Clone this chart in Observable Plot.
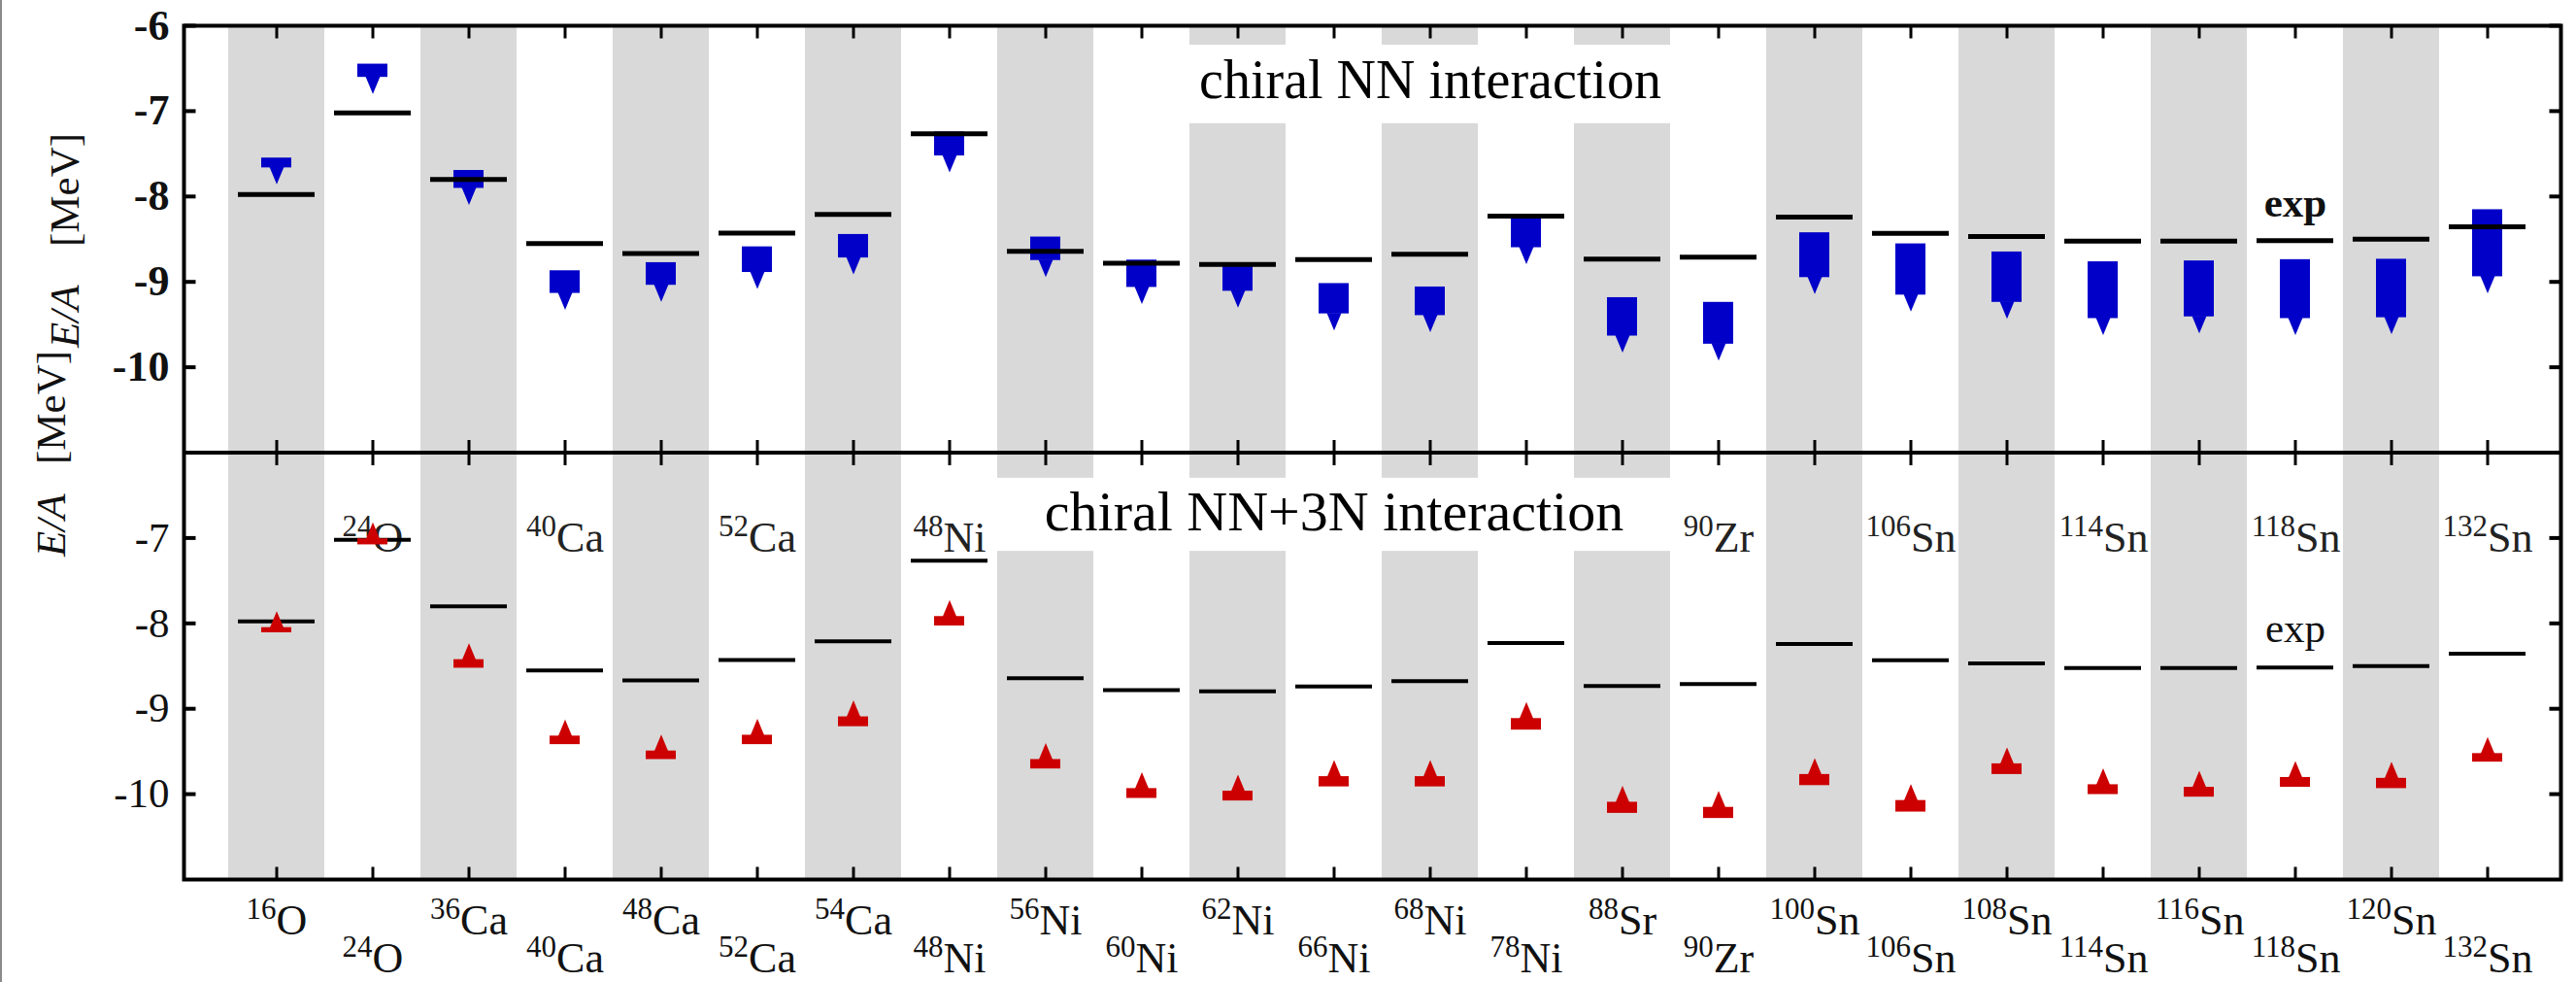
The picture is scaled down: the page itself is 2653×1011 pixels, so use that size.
<!DOCTYPE html>
<html>
<head>
<meta charset="utf-8">
<script src="https://cdn.jsdelivr.net/npm/d3@7"></script>
<script src="https://cdn.jsdelivr.net/npm/@observablehq/plot@0.6"></script>
<style>
  html, body { margin: 0; padding: 0; background: #fff; }
  #chart { position: relative; width: 2653px; height: 1011px; }
  #edge { position: absolute; left: 0; top: 0; width: 2px; height: 1011px; background: #8a8a8a; }
  #chart svg text { font-family: "Liberation Serif", "Times New Roman", serif; }
</style>
</head>
<body>
<div id="chart"><div id="edge"></div></div>
<script>
// ---------------- data ----------------
const nuclides = ["16O","24O","36Ca","40Ca","48Ca","52Ca","54Ca","48Ni","56Ni","60Ni","62Ni","66Ni",
                  "68Ni","78Ni","88Sr","90Zr","100Sn","106Sn","108Sn","114Sn","116Sn","118Sn","120Sn","132Sn"];
// experimental E/A [MeV]
const expEnergy = [-7.976,-7.02,-7.80,-8.551,-8.667,-8.43,-8.21,-7.265,-8.643,-8.781,-8.795,-8.739,
                   -8.675,-8.23,-8.733,-8.71,-8.24,-8.432,-8.469,-8.523,-8.523,-8.517,-8.50,-8.355];
// chiral NN interaction: range of results (upper / lower end)
const nnUpper = [-7.55,-6.45,-7.695,-8.87,-8.775,-8.59,-8.445,-7.245,-8.475,-8.745,-8.82,-9.02,
                 -9.06,-8.24,-9.185,-9.24,-8.425,-8.555,-8.65,-8.765,-8.755,-8.74,-8.735,-8.155];
const nnLower = [-7.665,-6.605,-7.905,-9.135,-9.04,-8.89,-8.72,-7.525,-8.75,-9.065,-9.11,-9.375,
                 -9.395,-8.60,-9.635,-9.73,-8.95,-9.155,-9.24,-9.43,-9.41,-9.43,-9.42,-8.94];
// chiral NN+3N interaction: range of results (upper / lower end)
const n3nUpper = [-8.05,-7.01,-8.425,-9.32,-9.495,-9.31,-9.095,-7.92,-9.595,-9.935,-9.965,-9.795,
                  -9.795,-9.115,-10.095,-10.155,-9.77,-10.075,-9.645,-9.89,-9.92,-9.805,-9.815,-9.525];
const n3nLower = [-8.11,-7.08,-8.525,-9.42,-9.595,-9.42,-9.21,-8.03,-9.705,-10.05,-10.08,-9.915,
                  -9.915,-9.25,-10.225,-10.285,-9.9,-10.21,-9.77,-10.005,-10.035,-9.92,-9.935,-9.625];
// y tick labels of the two panels
const yTicksNN = [-6,-7,-8,-9,-10];
const yTicks3N = [-7,-8,-9,-10];
// nuclides labelled inside the lower panel
const innerLabels = ["24O","40Ca","52Ca","48Ni","90Zr","106Sn","114Sn","118Sn","132Sn"];
const panelDomain = [-11, -6];

// ---------------- layout helpers ----------------
const OFFSET = panelDomain[0] - panelDomain[1];   // lower panel is drawn one panel-height further down
const F = "Liberation Serif, Times New Roman, serif";
const gray = "#d9d9d9", blue = "#0000c8", red = "#cc0000";

const rows = nuclides.map((name, i) => ({
  name, i,
  A: name.match(/^\d+/)[0],
  el: name.replace(/^\d+/, ""),
  exp: expEnergy[i],
  nnHi: nnUpper[i], nnLo: nnLower[i],
  tHi: n3nUpper[i] + OFFSET, tLo: n3nLower[i] + OFFSET,
  expLow: expEnergy[i] + OFFSET
}));

const sym = (pts, close) => ({
  draw(ctx) { ctx.moveTo(...pts[0]); for (const p of pts.slice(1)) ctx.lineTo(...p); if (close) ctx.closePath(); }
});
const tickDown = sym([[0, 0], [0, 13]]);
const tickUp = sym([[0, 0], [0, -13]]);
const tickBoth = sym([[0, -13], [0, 13]]);
const tickRight = sym([[0, 0], [12, 0]]);
const tickLeft = sym([[0, 0], [-12, 0]]);
const triDown = sym([[-7.5, -1], [7.5, -1], [0, 17]], true);
const triUp = sym([[-7.5, 1], [7.5, 1], [0, -17]], true);

const glyphW = {O: .722, C: .667, a: .444, N: .722, i: .278, S: .556, r: .333, Z: .611, n: .5};
const supSize = 31, elSize = 44;
function nuclideLabel(row, opts, dy, fill) {
  const supW = row.A.length * 0.5 * supSize;
  const elW = [...row.el].reduce((w, c) => w + (glyphW[c] ?? 0.5), 0) * elSize;
  const shift = (supW - elW) / 2;
  const base = {x: "name", lineAnchor: "bottom", fontFamily: F, fill, ...opts};
  return [
    Plot.text([row], {...base, text: "A", textAnchor: "end", dx: shift, dy: dy - 16, fontSize: supSize}),
    Plot.text([row], {...base, text: "el", textAnchor: "start", dx: shift, dy, fontSize: elSize})
  ];
}

const tickRows = [
  ...yTicksNN.map(v => ({v, y: v, top: true})),
  ...yTicks3N.map(v => ({v, y: v + OFFSET, top: false}))
];
const chiral = [
  {cat: "68Ni", y: -6.847, label: "chiral NN interaction", size: 56},
  {cat: "66Ni", y: -6.91 + OFFSET, label: "chiral NN+3N interaction", size: 58}
];
const textBoxes = [
  {from: 10, to: 14, y1: -6.228, y2: -7.147},
  {from: 8, to: 14, y1: -6.30 + OFFSET, y2: -7.156 + OFFSET}
];
const expLabels = [
  {cat: "118Sn", y: -8.24, bold: true},
  {cat: "118Sn", y: -8.22 + OFFSET, bold: false}
];
const innerLabelY = -7.16 + OFFSET;

const marks = [
  // alternating grey columns
  Plot.cell(rows.filter(r => r.i % 2 === 0), {x: "name", fill: gray, inset: 0}),
  // white background boxes behind the panel titles
  ...textBoxes.map(b => Plot.barY(rows.filter(r => r.i >= b.from && r.i <= b.to),
      {x: "name", y1: b.y1, y2: b.y2, fill: "white", inset: 0})),
  // nuclide names inside the lower panel
  ...rows.filter(r => innerLabels.includes(r.name))
     .flatMap(r => nuclideLabel(r, {y: () => innerLabelY}, 0, "#222")),
  // NN results (blue)
  Plot.barY(rows, {x: "name", y1: "nnHi", y2: "nnLo", fill: blue, insetLeft: 34, insetRight: 34}),
  Plot.dot(rows, {x: "name", y: "nnLo", symbol: triDown, fill: blue, stroke: "none"}),
  // experiment
  Plot.tickY(rows, {x: "name", y: "exp", stroke: "black", strokeWidth: 5, insetLeft: 10, insetRight: 10}),
  Plot.tickY(rows, {x: "name", y: "expLow", stroke: "black", strokeWidth: 4, insetLeft: 10, insetRight: 10}),
  // NN+3N results (red)
  Plot.barY(rows, {x: "name", y1: "tHi", y2: "tLo", fill: red, insetLeft: 34, insetRight: 34}),
  Plot.dot(rows, {x: "name", y: "tHi", symbol: triUp, fill: red, stroke: "none"}),
  // frame and panel separator
  Plot.frame({stroke: "black", strokeWidth: 4}),
  Plot.ruleY([panelDomain[0]], {stroke: "black", strokeWidth: 4}),
  // inward ticks
  Plot.dot(nuclides, {x: d => d, frameAnchor: "top", symbol: tickDown, stroke: "black", strokeWidth: 3, fill: "none"}),
  Plot.dot(nuclides, {x: d => d, y: () => panelDomain[0], symbol: tickBoth, stroke: "black", strokeWidth: 3, fill: "none"}),
  Plot.dot(nuclides, {x: d => d, frameAnchor: "bottom", symbol: tickUp, stroke: "black", strokeWidth: 3, fill: "none"}),
  Plot.dot(tickRows, {y: "y", frameAnchor: "left", symbol: tickRight, stroke: "black", strokeWidth: 4, fill: "none"}),
  Plot.dot(tickRows, {y: "y", frameAnchor: "right", symbol: tickLeft, stroke: "black", strokeWidth: 4, fill: "none"}),
  // y tick labels
  Plot.text(tickRows.filter(d => d.top), {y: "y", text: d => `${d.v}`, frameAnchor: "left", dx: -15,
      textAnchor: "end", fontSize: 44, fontWeight: "bold", fontFamily: F, fill: "#111"}),
  Plot.text(tickRows.filter(d => !d.top), {y: "y", text: d => `${d.v}`, frameAnchor: "left", dx: -15,
      textAnchor: "end", fontSize: 43, fontFamily: F, fill: "#111"}),
  // x tick labels (two staggered rows)
  ...rows.flatMap(r => nuclideLabel(r, {frameAnchor: "bottom"}, r.i % 2 ? 95 : 56, "#111")),
  // y axis titles
  Plot.text(["E/A"], {frameAnchor: "left", dx: -109, dy: -108, rotate: -90, textAnchor: "start",
      lineAnchor: "bottom", fontStyle: "italic", fontSize: 43, fontFamily: F, fill: "#111"}),
  Plot.text(["[MeV]"], {frameAnchor: "left", dx: -109, dy: -212, rotate: -90, textAnchor: "start",
      lineAnchor: "bottom", fontSize: 43, fontFamily: F, fill: "#111"}),
  Plot.text(["E/A"], {frameAnchor: "left", dx: -123, dy: 107, rotate: -90, textAnchor: "start",
      lineAnchor: "bottom", fontStyle: "italic", fontSize: 43, fontFamily: F, fill: "#111"}),
  Plot.text(["[MeV]"], {frameAnchor: "left", dx: -123, dy: 12, rotate: -90, textAnchor: "start",
      lineAnchor: "bottom", fontSize: 43, fontFamily: F, fill: "#111"}),
  // panel titles
  ...chiral.map(c => Plot.text([c], {x: "cat", y: "y", text: "label", lineAnchor: "bottom",
      fontSize: c.size, fontFamily: F, fill: "black"})),
  // "exp" labels
  ...expLabels.map(e => Plot.text([e], {x: "cat", y: "y", text: () => "exp", lineAnchor: "bottom",
      fontSize: 43, fontWeight: e.bold ? "bold" : "normal", fontFamily: F, fill: "#111"}))
];

const chart = Plot.plot({
  width: 2653,
  height: 1011,
  marginLeft: 189,
  marginRight: 16,
  marginTop: 26,
  marginBottom: 106,
  style: {fontFamily: F, background: "white"},
  x: {type: "band", domain: nuclides, padding: 0, insetLeft: 40, insetRight: 20, axis: null},
  y: {domain: [panelDomain[0] + OFFSET, panelDomain[1]], axis: null},
  marks
});
document.getElementById("chart").appendChild(chart);
</script>
</body>
</html>
